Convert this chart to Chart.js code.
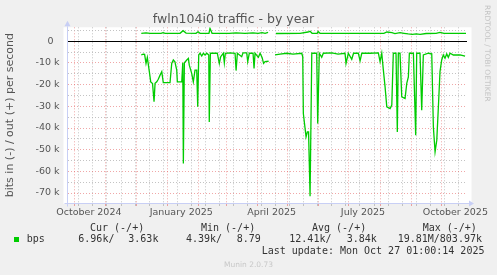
<!DOCTYPE html>
<html>
<head>
<meta charset="utf-8">
<script src="https://cdn.jsdelivr.net/npm/chart.js"></script>
<style>
  body { margin: 0; background: #f0f0f0; }
  #wrap { position: relative; width: 497px; height: 275px; overflow: hidden; }
  #wrap canvas { position: absolute; left: 0; top: 0; }
  .t { position: absolute; white-space: pre; font-family: "DejaVu Sans Mono", monospace; font-size: 10px; line-height: 12px; color: #333; }
  .swatch { position: absolute; left: 14px; top: 237px; width: 5px; height: 5px; background: #00cc00; }
  .munin { position: absolute; left: 0; width: 497px; top: 259.6px; text-align: center; font-family: "DejaVu Sans", sans-serif; font-size: 7.5px; line-height: 9px; color: #c8c8c8; }
  .rrd { position: absolute; left: 492px; top: 5px; transform-origin: 0 0; transform: rotate(90deg); white-space: pre; font-family: "DejaVu Sans", sans-serif; font-size: 7.5px; line-height: 9px; color: #c4c4c4; }
</style>
</head>
<body>
<div id="wrap">
  <canvas id="traffic" width="497" height="275"></canvas>
  <div class="rrd">RRDTOOL / TOBI OETIKER</div>
  <div class="t" style="left:90px;top:221.5px">Cur (-/+)</div>
  <div class="t" style="left:201px;top:221.5px">Min (-/+)</div>
  <div class="t" style="left:312px;top:221.5px">Avg (-/+)</div>
  <div class="t" style="left:422.7px;top:221.5px">Max (-/+)</div>
  <div class="swatch"></div>
  <div class="t" style="left:26.7px;top:233.2px">bps</div>
  <div class="t" style="left:78.3px;top:233.2px">6.96k/</div>
  <div class="t" style="left:128.3px;top:233.2px">3.63k</div>
  <div class="t" style="left:186px;top:233.2px">4.39k/</div>
  <div class="t" style="left:236.7px;top:233.2px">8.79</div>
  <div class="t" style="left:289.3px;top:233.2px">12.41k/</div>
  <div class="t" style="left:346.7px;top:233.2px">3.84k</div>
  <div class="t" style="left:397.7px;top:233.2px">19.81M/803.97k</div>
  <div class="t" style="left:261.7px;top:244.8px">Last update: Mon Oct 27 01:00:14 2025</div>
  <div class="munin">Munin 2.0.73</div>
</div>
<script>
// x values are days counted from 2024-10-01, y values are bits per second
// "in" traffic is drawn below zero, "out" traffic above
const inDays = [66.2, 68.2, 69.5, 70.9, 72.2, 74.2, 75.6, 77.4, 78.9, 79.9, 81.6, 83.1, 84.9, 86.6, 88.1, 94.8,
  96.5, 98.1, 99.7, 101.5, 102.1, 106.5, 107.5, 108.1, 109.1, 111.5, 113.1, 114.0, 116.4, 118.0, 119.7, 121.4,
  122.4, 123.4, 124.7, 126.4, 128, 129.7, 131.4, 133.4, 133.9, 135, 141.9, 143.9, 145.3, 147.9, 148.9, 149.9,
  154.6, 159.6, 160.6, 161.9, 166.2, 167.5, 171.2, 172.2, 173.8, 177.5, 178.5, 179.5, 182.8, 184.5, 186.5, 188,
  189.5, 193, 196, 199.4, 204.4, 211, 217.3, 226, 227, 227.6, 230.3, 231.6, 232.8, 234.3, 236, 240.9,
  241.9, 243.5, 245.9, 247.5, 255.9, 262.2, 269.1, 270.1, 272.4, 275.8, 277.6, 282.4, 284.1, 285.8, 294, 302.3,
  304, 305.7, 307.3, 309, 310.7, 314, 315.7, 317.2, 319.9, 321.2, 322.2, 323.9, 325.6, 328.9, 330.6, 332.2,
  333.2, 337.2, 339.5, 340.5, 343.8, 345.5, 347.1, 352.1, 355.5, 357.1, 358.8, 360.5, 362.1, 363.7, 365.4, 367,
  368.7, 370.4, 372, 373.7, 377, 383.7, 388.7];
const inBps = [-6200, -5900, -6000, -10200, -7400, -14000, -18700, -19500, -27900, -19400, -18700, -17500, -15600, -14000, -19100, -19100,
  -10200, -8600, -9500, -13300, -18700, -18700, -9900, -56400, -9900, -8600, -7900, -11000, -14800, -18700, -13300, -13300,
  -30200, -6300, -5500, -6800, -5500, -6300, -5500, -6300, -37200, -5500, -5500, -10200, -7100, -5500, -9900, -5500,
  -5300, -5500, -13500, -5500, -7100, -5300, -5300, -9400, -5500, -5500, -12500, -5500, -7400, -5500, -7400, -10200,
  -9400, -9200, null, -6300, -5900, -5500, -5900, -5500, -7100, -33300, -44100, -41800, -41800, -71500, -5500, -5500,
  -37900, -5500, -7400, -5500, -5300, -5900, -5500, -10200, -5500, -8300, -5500, -5500, -9000, -5500, -5500, -5300,
  -9400, -5500, -13300, -21000, -30200, -31000, -29400, -5500, -5500, -41800, -5500, -5500, -25600, -26400, -19400, -16400,
  -5500, -5500, -43300, -5500, -5500, -31800, -6300, -5500, -5800, -39500, -51000, -45600, -30200, -14000, -8600, -6300,
  -7800, -5800, -7400, -5500, -6300, -6300, -6800];

const outDays = [66.2, 70.9, 74.9, 85.9, 87.9, 89.9, 104.8, 107.8, 110.8, 120.7, 122.7, 124.7, 133.6, 134.6, 136.7, 153.6,
  160.6, 169.5, 177.5, 182.5, 186.5, 189.5, 192.5, 196, 200.4, 224.3, 232.2, 234.3, 236.3, 241.3, 242.3, 244.2,
  307.8, 310.8, 315.8, 318.8, 323.9, 327.9, 332, 336.1, 340, 343.9, 349.9, 359.8, 363.7, 367.7, 389.6];
const outBps = [3700, 3900, 3700, 3700, 4000, 3700, 3700, 4900, 3800, 3700, 4400, 3700, 3700, 6000, 3700, 3700,
  3900, 3700, 3900, 3700, 4000, 3700, 4100, null, 3600, 3700, 4300, 4600, 3700, 3700, 4500, 3700,
  3700, 4300, 4000, 3600, 4000, 3700, 3400, 3200, 3400, 3200, 3600, 3700, 4100, 3700, 3700];

// axis: month starts (red grid), label days (15th), y ticks
const monthStarts = [0, 31, 61, 92, 123, 151, 182, 212, 243, 273, 304, 335, 365];
const labelDays = [14, 106, 196, 287, 379];
const monthLabels = ["October 2024", "January 2025", "April 2025", "July 2025", "October 2025"];
const yTicks = [5000, 0, -5000, -10000, -15000, -20000, -25000, -30000, -35000, -40000, -45000, -50000, -55000, -60000, -65000, -70000];

const weekLines = [];
for (let d = 4; d < 391; d += 14) weekLines.push(d);

const RED = 'rgba(225, 80, 80, 0.5)';
const GRAY = 'rgba(180, 180, 180, 0.8)';
const AXIS = '#c8cff5';
const GREEN = '#00cc00';

function toPoints(days, vals) {
  return days.map((d, i) => ({ x: d, y: vals[i] }));
}

// white canvas + axis arrows like rrdtool
const rrdFrame = {
  id: 'rrdFrame',
  beforeDraw(chart) {
    const { ctx, chartArea: a } = chart;
    ctx.save();
    ctx.fillStyle = '#ffffff';
    ctx.fillRect(a.left - 3.5, a.top, a.width + 8, a.height + 1);
    ctx.restore();
  },
  afterDraw(chart) {
    const { ctx, chartArea: a } = chart;
    const x0 = Math.round(a.left) + 0.5, y0 = Math.round(a.bottom) + 0.5;
    ctx.save();
    ctx.strokeStyle = AXIS;
    ctx.fillStyle = AXIS;
    ctx.lineWidth = 1;
    ctx.beginPath();
    ctx.moveTo(x0, y0 + 3); ctx.lineTo(x0, a.top - 1);
    ctx.moveTo(x0 - 3, y0); ctx.lineTo(a.right + 2, y0);
    ctx.stroke();
    ctx.beginPath();
    ctx.moveTo(x0, a.top - 6.5); ctx.lineTo(x0 - 3, a.top - 1); ctx.lineTo(x0 + 3, a.top - 1);
    ctx.fill();
    ctx.beginPath();
    ctx.moveTo(a.right + 7, y0); ctx.lineTo(a.right + 2, y0 - 3); ctx.lineTo(a.right + 2, y0 + 3);
    ctx.fill();
    ctx.restore();
  }
};

const ctx = document.getElementById('traffic').getContext('2d');
new Chart(ctx, {
  type: 'line',
  data: {
    datasets: [
      { label: 'in', data: toPoints(inDays, inBps), borderColor: GREEN, borderWidth: 1.3, pointRadius: 0, tension: 0, spanGaps: false },
      { label: 'out', data: toPoints(outDays, outBps), borderColor: GREEN, borderWidth: 1.3, pointRadius: 0, tension: 0, spanGaps: false }
    ]
  },
  options: {
    responsive: false,
    animation: false,
    layout: { padding: { left: 0, right: 30, top: 0, bottom: 52 } },
    plugins: {
      legend: { display: false },
      tooltip: { enabled: false },
      title: {
        display: true,
        text: 'fwln104i0 traffic - by year',
        color: '#555',
        font: { family: "'DejaVu Sans', sans-serif", size: 12.5, weight: 'normal' },
        padding: { top: 12, bottom: 0.3 }
      }
    },
    scales: {
      x: {
        type: 'linear',
        min: -7.8,
        max: 390.6,
        afterFit(s) { s.height = 20; },
        afterBuildTicks(s) {
          s.ticks = [...monthStarts, ...weekLines, ...labelDays].sort((a, b) => a - b).map(v => ({ value: v }));
        },
        ticks: {
          autoSkip: false,
          maxRotation: 0,
          padding: 0.5,
          color: '#555',
          font: { family: "'DejaVu Sans', sans-serif", size: 9.5 },
          callback(v) {
            const i = labelDays.indexOf(v);
            return i >= 0 ? monthLabels[i] : '';
          }
        },
        grid: {
          drawTicks: true,
          tickLength: 3,
          color(c) {
            if (!c.tick) return GRAY;
            if (labelDays.includes(c.tick.value)) return 'rgba(0,0,0,0)';
            return monthStarts.includes(c.tick.value) ? RED : GRAY;
          },
          tickColor(c) {
            if (!c.tick) return GRAY;
            if (labelDays.includes(c.tick.value)) return 'rgba(0,0,0,0)';
            return monthStarts.includes(c.tick.value) ? RED : GRAY;
          }
        },
        border: { display: true, color: AXIS, dash: [1, 2] }
      },
      y: {
        type: 'linear',
        min: -74600,
        max: 6470,
        afterFit(s) { s.width = 67; },
        afterBuildTicks(s) {
          s.ticks = yTicks.map(v => ({ value: v }));
        },
        ticks: {
          autoSkip: false,
          padding: 7.5,
          color: '#555',
          font: { family: "'DejaVu Sans', sans-serif", size: 9.5 },
          callback(v) {
            if (v % 10000 !== 0) return '';
            return v === 0 ? '0  ' : (v / 1000) + ' k';
          }
        },
        grid: {
          drawTicks: false,
          color(c) {
            if (!c.tick) return GRAY;
            if (c.tick.value === 0) return '#000000';
            return c.tick.value % 10000 === 0 ? RED : GRAY;
          }
        },
        border: {
          display: true,
          color: AXIS,
          dash(c) { return c.tick && c.tick.value === 0 ? [] : [1, 2]; }
        },
        title: {
          display: true,
          text: 'bits in (-) / out (+) per second',
          color: '#555',
          font: { family: "'DejaVu Sans', sans-serif", size: 11 },
          padding: { top: 3.4, bottom: 0 }
        }
      }
    }
  },
  plugins: [rrdFrame]
});
</script>
</body>
</html>
